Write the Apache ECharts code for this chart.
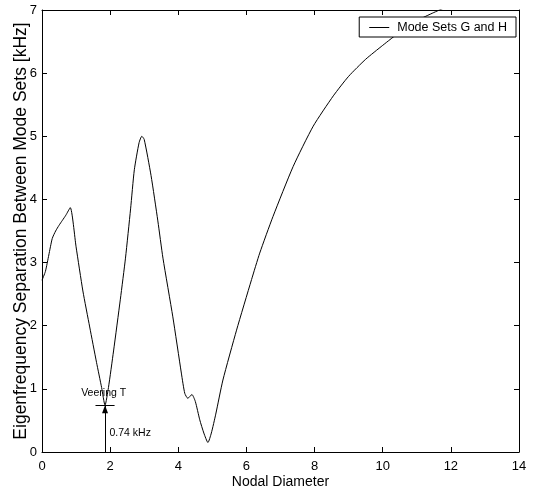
<!DOCTYPE html>
<html>
<head>
<meta charset="utf-8">
<script src="https://cdn.jsdelivr.net/npm/echarts@6/dist/echarts.min.js"></script>
<style>
  html, body { margin: 0; padding: 0; background: #fff; }
  #chart { width: 533px; height: 496px; }
</style>
</head>
<body>
<div id="chart"></div>
<script>
// Nodal diameter (x) and eigenfrequency separation in kHz (y)
const nodalDiameter = [
  0, 0.1, 0.2, 0.3, 0.4, 0.5, 0.6, 0.7, 0.83, 1.0, 1.2, 1.4, 1.6, 1.75, 1.85,
  1.95, 2.1, 2.3, 2.45, 2.6, 2.71, 2.85, 2.93, 3.0, 3.2, 3.4, 3.55, 3.84, 4.09,
  4.19, 4.28, 4.4, 4.5, 4.63, 4.75, 4.87, 4.97, 5.1, 5.31, 5.71, 6.15, 6.39,
  6.78, 7.37, 7.96, 8.55, 9.0, 9.5, 10.0, 10.5, 11.0, 11.5, 12.0
];
const separationKHz = [
  2.72, 2.86, 3.12, 3.38, 3.5, 3.59, 3.67, 3.75, 3.87, 3.25, 2.55, 1.98, 1.42, 1.02, 0.74,
  1.02, 1.6, 2.42, 3.07, 3.85, 4.47, 4.9, 5.0, 4.95, 4.38, 3.66, 3.07, 2.14, 1.25,
  0.93, 0.85, 0.91, 0.8, 0.51, 0.3, 0.15, 0.3, 0.6, 1.14, 1.93, 2.73, 3.15,
  3.73, 4.52, 5.16, 5.64, 5.95, 6.22, 6.44, 6.65, 6.83, 6.96, 7.08
];
const seriesName = 'Mode Sets G and H';

// Axis ranges
const xRange = [0, 14];
const xStep = 2;
const yRange = [0, 7];
const yStep = 1;

// Veering annotation
const veeringPoint = [1.85, 0.74];
const veeringBarHalfWidth = 0.28;
const veeringTitle = 'Veering T';
const veeringValueText = '0.74 kHz';

const FONT = '"Liberation Sans", Arial, Helvetica, sans-serif';

const points = nodalDiameter.map((x, i) => [x, separationKHz[i]]);

function frameAxis(position, range, step, showLabel) {
  return {
    type: 'value',
    position: position,
    min: range[0],
    max: range[1],
    interval: step,
    axisLine: { show: true, onZero: false, lineStyle: { color: '#000', width: 1 } },
    axisTick: { show: true, inside: true, length: 5, lineStyle: { color: '#000', width: 1 } },
    axisLabel: { show: showLabel, color: '#000', fontSize: 13, fontFamily: FONT, margin: 8 },
    splitLine: { show: false }
  };
}

const chart = echarts.init(document.getElementById('chart'), null, { renderer: 'canvas' });

const xBottom = Object.assign(frameAxis('bottom', xRange, xStep, true), {
  name: 'Nodal Diameter',
  nameLocation: 'middle',
  nameGap: 23,
  nameMoveOverlap: false,
  nameTextStyle: { color: '#000', fontSize: 14, fontFamily: FONT }
});
const yLeft = Object.assign(frameAxis('left', yRange, yStep, true), {
  name: 'Eigenfrequency Separation Between Mode Sets [kHz]',
  nameLocation: 'middle',
  nameGap: 12,
  nameMoveOverlap: false,
  nameTextStyle: { color: '#000', fontSize: 17.5, fontFamily: FONT }
});
yLeft.axisLabel.margin = 5;

chart.setOption({
  animation: false,
  backgroundColor: '#fff',
  grid: { left: 42, right: 14, top: 10, bottom: 44, containLabel: false, outerBoundsMode: 'none' },
  legend: {
    data: [{ name: seriesName, icon: 'rect' }],
    right: 17,
    top: 17,
    padding: [4, 9, 3, 10],
    itemWidth: 20,
    itemHeight: 1,
    borderColor: '#000',
    borderWidth: 1,
    backgroundColor: '#fff',
    textStyle: { color: '#000', fontSize: 12.5, fontFamily: FONT, padding: [0, 0, 0, 3] }
  },
  xAxis: [xBottom, frameAxis('top', xRange, xStep, false)],
  yAxis: [yLeft, frameAxis('right', yRange, yStep, false)],
  series: [{
    name: seriesName,
    type: 'line',
    data: points,
    symbol: 'none',
    smooth: 0.2,
    clip: true,
    lineStyle: { color: '#000', width: 1 },
    itemStyle: { color: '#000' },
    markLine: {
      silent: true,
      animation: false,
      label: { show: false },
      lineStyle: { color: '#000', width: 1, type: 'solid' },
      data: [
        [
          { coord: [veeringPoint[0], 0], symbol: 'none' },
          { coord: [veeringPoint[0], veeringPoint[1]], symbol: 'triangle', symbolSize: [6, 8], symbolOffset: [0, 4] }
        ],
        [
          { coord: [veeringPoint[0] - veeringBarHalfWidth, veeringPoint[1]], symbol: 'none' },
          { coord: [veeringPoint[0] + veeringBarHalfWidth, veeringPoint[1]], symbol: 'none' }
        ]
      ]
    },
    markPoint: {
      silent: true,
      animation: false,
      symbol: 'circle',
      symbolSize: 0,
      label: { color: '#000', fontSize: 10.5, fontFamily: FONT },
      data: [
        { coord: [1.81, 0.935], label: { formatter: veeringTitle, position: 'inside' } },
        { coord: [1.98, 0.306], label: { formatter: veeringValueText, position: 'right', distance: 0 } }
      ]
    }
  }]
});
</script>
</body>
</html>
